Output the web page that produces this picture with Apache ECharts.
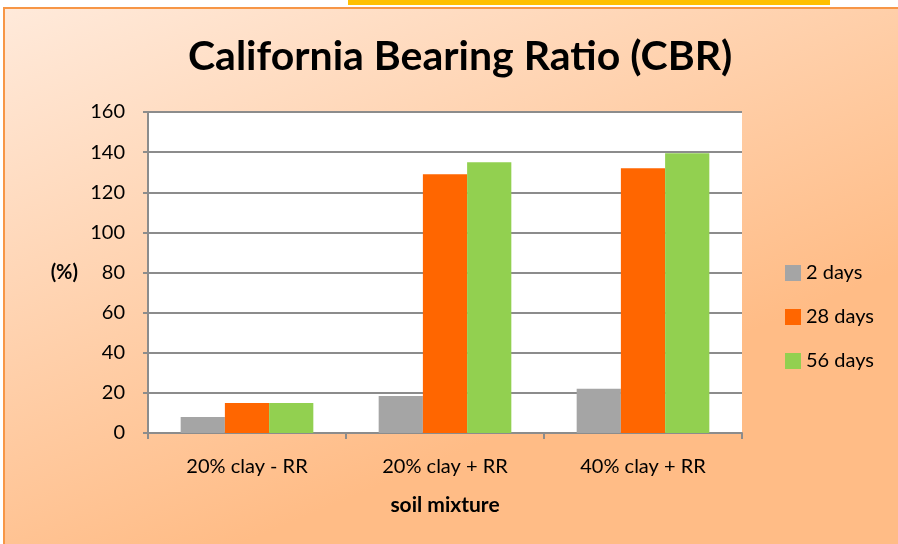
<!DOCTYPE html>
<html><head><meta charset="utf-8">
<script src="https://cdn.jsdelivr.net/npm/echarts@6/dist/echarts.min.js"></script>
<style>html,body{margin:0;padding:0;background:#fff}#c{width:898px;height:544px}</style>
</head><body><div id="c"></div>
<script>
const categories = ['20% clay - RR', '20% clay + RR', '40% clay + RR'];
const seriesNames = ['2 days', '28 days', '56 days'];
const days2 = [8, 18.5, 22];
const days28 = [15, 129, 132];
const days56 = [15, 135, 139.5];
const yTicks = [0, 20, 40, 60, 80, 100, 120, 140, 160];
const colors = ['#A5A5A5', '#FF6600', '#92D050'];
const FONT = 'Lato';

const chart = echarts.init(document.getElementById('c'), null, {renderer: 'canvas'});
const values = [days2, days28, days56];
chart.setOption({
  animation: false,
  textStyle: {fontFamily: FONT},
  graphic: [
    {type: 'rect', z: -10, shape: {x: 4, y: 8, width: 900, height: 540},
     style: {fill: new echarts.graphic.LinearGradient(0, 0, 0.25, 1, [
       {offset: 0, color: '#FFEADB'}, {offset: 1, color: '#FFBC86'}]),
       stroke: '#F79646', lineWidth: 2}},
    {type: 'rect', z: -10, shape: {x: 348, y: 0, width: 482, height: 5}, style: {fill: '#FFC000'}}
  ],
  title: {text: 'California Bearing Ratio (CBR)', left: 183, top: 31,
    textStyle: {fontFamily: FONT, fontSize: 41, fontWeight: 'bold', color: '#000'}},
  legend: {orient: 'vertical', left: 780, top: 258, itemGap: 24, itemWidth: 16, itemHeight: 16,
    icon: 'rect', data: seriesNames,
    textStyle: {fontFamily: FONT, fontSize: 20, color: '#000'}},
  grid: {left: 148, right: 156, top: 112, bottom: 111, show: true, backgroundColor: '#fff', borderWidth: 0},
  xAxis: {type: 'category', data: categories,
    name: 'soil mixture', nameLocation: 'middle', nameGap: 62,
    nameTextStyle: {fontFamily: FONT, fontSize: 21, fontWeight: 'bold', color: '#000'},
    axisLine: {lineStyle: {color: '#8C8C8C', width: 2}},
    axisTick: {show: true, length: 6, lineStyle: {color: '#8C8C8C', width: 2}},
    axisLabel: {fontFamily: FONT, fontSize: 20, color: '#000', margin: 24}},
  yAxis: {type: 'value', min: yTicks[0], max: yTicks[yTicks.length - 1], interval: 20,
    name: '(%)', nameLocation: 'middle', nameGap: 70, nameRotate: 0,
    nameTextStyle: {fontFamily: FONT, fontSize: 20, fontWeight: 'bold', color: '#000', padding: [6, 0, 0, 0]},
    axisLine: {show: true, lineStyle: {color: '#8C8C8C', width: 2}},
    axisTick: {show: true, length: 5, lineStyle: {color: '#8C8C8C', width: 2}},
    splitLine: {lineStyle: {color: '#8C8C8C', width: 2}},
    axisLabel: {fontFamily: FONT, fontSize: 20, color: '#000', margin: 23}},
  series: seriesNames.map((n, i) => ({
    name: n, type: 'bar', data: values[i], barGap: '0%', barCategoryGap: '33%',
    itemStyle: {color: colors[i]}
  }))
});
</script></body></html>
